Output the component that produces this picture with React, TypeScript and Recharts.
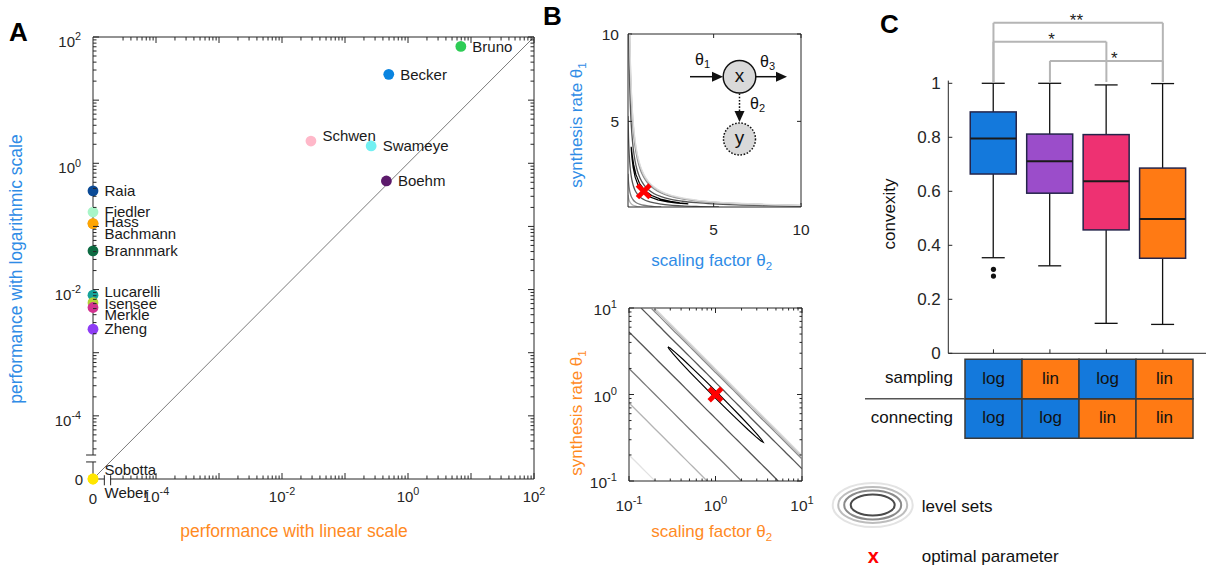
import React from 'react';
import {
  ScatterChart, ComposedChart, BarChart, Scatter, Line, Bar, Cell, LabelList,
  XAxis, YAxis, ReferenceLine, ReferenceDot,
} from 'recharts';

const FONT = '"Liberation Sans", Arial, Helvetica, sans-serif';
const INK = '#262626';
const LABEL_BLUE = '#2f8ce6';
const LABEL_ORANGE = '#ff8a1f';

// ---------------- Panel A data ----------------
const modelNames = ['Bachmann', 'Raia', 'Fiedler', 'Hass', 'Brannmark', 'Lucarelli', 'Isensee', 'Merkle', 'Zheng', 'Weber', 'Sobotta', 'Schwen', 'Swameye', 'Boehm', 'Becker', 'Bruno'];
const linearScalePerf = [0, 0, 0, 0, 0, 0, 0, 0, 0, 0, 0, 0.0288, 0.26, 0.454, 0.495, 6.9];
const logScalePerf = [0.111, 0.365, 0.169, 0.111, 0.041, 0.00815, 0.0062, 0.0052, 0.00236, 0, 0, 2.25, 1.88, 0.525, 25.6, 71];
const modelColors = ['#c9a060', '#0b4a96', '#a8f5c8', '#ffa500', '#0d6b42', '#15a39a', '#b3d236', '#d2318f', '#8e3cf5', '#ffe600', '#ffe600', '#ffb8c9', '#72f0f2', '#5c1a6b', '#0a84e0', '#2ecc55'];
const labelShift: Record<string, number> = { Schwen: -5, Fiedler: -0.5, Hass: -1.5, Bachmann: 10.5, Lucarelli: -3.5, Isensee: 1, Merkle: 7.5, Sobotta: -9.7, Weber: 13.7 };
const aTickExponents = [-4, -2, 0, 2];

// ---------------- Panel B data (level sets) ----------------
const levelSet1 = [[0.1, 0.2], [0.13, 0.154], [0.16, 0.125], [0.2, 0.1]];
const levelSet2 = [[0.1, 0.8], [0.13, 0.615], [0.16, 0.5], [0.2, 0.4], [0.25, 0.32], [0.32, 0.25], [0.4, 0.2], [0.5, 0.16], [0.63, 0.127], [0.8, 0.1]];
const levelSet3 = [[0.1, 2], [0.13, 1.54], [0.16, 1.25], [0.2, 1], [0.25, 0.8], [0.32, 0.625], [0.4, 0.5], [0.5, 0.4], [0.63, 0.317], [0.8, 0.25], [1, 0.2], [1.26, 0.159], [1.6, 0.125], [2, 0.1]];
const levelSet4 = [[0.1, 5.3], [0.13, 4.08], [0.16, 3.31], [0.2, 2.65], [0.25, 2.12], [0.32, 1.66], [0.4, 1.33], [0.5, 1.06], [0.63, 0.84], [0.8, 0.66], [1, 0.53], [1.26, 0.42], [1.6, 0.33], [2, 0.265], [2.5, 0.212], [3.2, 0.166], [4, 0.133], [5.3, 0.1]];
const levelSet5 = [[0.138, 10], [0.16, 8.6], [0.2, 6.9], [0.25, 5.5], [0.32, 4.3], [0.4, 3.45], [0.5, 2.76], [0.63, 2.19], [0.8, 1.73], [1, 1.38], [1.26, 1.1], [1.6, 0.86], [2, 0.69], [2.5, 0.55], [3.2, 0.43], [4, 0.345], [5, 0.276], [6.3, 0.219], [8, 0.173], [10, 0.138]];
const levelSet6 = [[0.18, 10], [0.2, 9], [0.25, 7.2], [0.32, 5.6], [0.4, 4.5], [0.5, 3.6], [0.63, 2.86], [0.8, 2.25], [1, 1.8], [1.26, 1.43], [1.6, 1.13], [2, 0.9], [2.5, 0.72], [3.2, 0.56], [4, 0.45], [5, 0.36], [6.3, 0.286], [8, 0.225], [10, 0.18]];
const levelSet7 = [[0.192, 10], [0.25, 7.7], [0.32, 6], [0.4, 4.8], [0.5, 3.84], [0.63, 3.05], [0.8, 2.4], [1, 1.92], [1.26, 1.52], [1.6, 1.2], [2, 0.96], [2.5, 0.77], [3.2, 0.6], [4, 0.48], [5, 0.384], [6.3, 0.305], [8, 0.24], [10, 0.192]];
const levelSet8 = [[0.198, 10], [0.25, 7.9], [0.32, 6.2], [0.4, 4.95], [0.5, 3.96], [0.63, 3.14], [0.8, 2.48], [1, 1.98], [1.26, 1.57], [1.6, 1.24], [2, 0.99], [2.5, 0.79], [3.2, 0.62], [4, 0.495], [5, 0.396], [6.3, 0.314], [8, 0.248], [10, 0.198]];
const levelSetColors = ['#e2e2e2', '#b4b4b4', '#7c7c7c', '#555555', '#555555', '#8a8a8a', '#b4b4b4', '#dcdcdc'];
const innerLevelSet = [[0.282, 3.55], [0.298, 3.44], [0.342, 3.07], [0.423, 2.535], [0.553, 1.965], [0.755, 1.455], [1.05, 1.05], [1.455, 0.755], [1.965, 0.553], [2.535, 0.423], [3.07, 0.342], [3.44, 0.298], [3.55, 0.282], [3.355, 0.2907], [2.921, 0.326], [2.366, 0.394], [1.806, 0.509], [1.325, 0.6875], [0.953, 0.953], [0.6875, 1.325], [0.509, 1.806], [0.394, 2.366], [0.326, 2.921], [0.2907, 3.355], [0.282, 3.55]];
const optimum = [{ x: 1, y: 1 }];
const linTicks = [5, 10];
const logMajor = [0.1, 1, 10];
const logMinor = [0.2, 0.3, 0.4, 0.5, 0.6, 0.7, 0.8, 0.9, 2, 3, 4, 5, 6, 7, 8, 9];

// ---------------- Panel C data ----------------
const boxPos = [1, 2, 3, 4];
const boxLow = [0.354, 0.324, 0.111, 0.107];
const boxQ1 = [0.664, 0.593, 0.457, 0.352];
const boxMedian = [0.796, 0.711, 0.637, 0.497];
const boxQ3 = [0.894, 0.812, 0.81, 0.686];
const boxHigh = [1.0, 1.0, 0.994, 0.999];
const boxColors = ['#1479dc', '#9b4dca', '#ee3172', '#ff7a14'];
const outlierPos = [1, 1];
const outlierVal = [0.311, 0.286];
const cTicks = [0, 0.2, 0.4, 0.6, 0.8, 1];
const bracketFrom = [1, 1, 2];
const bracketTo = [4, 3, 4];
const bracketLevel = [1.224, 1.154, 1.083];
const bracketText = ['**', '*', '*'];
const bracketTextPos = [2.47, 2.03, 3.14];
const samplingScale = ['log', 'lin', 'log', 'lin'];
const connectingScale = ['log', 'log', 'lin', 'lin'];
const rowLabels = ['sampling', 'connecting'];
const scaleColor: Record<string, string> = { log: '#1479dc', lin: '#ff7a14' };

// ---------------- helpers ----------------
const ZERO_POS = -5;
const brokenLog = (v: number) => (v > 0 ? Math.log10(v) : ZERO_POS);
const isInt = (v: number) => Math.abs(v - Math.round(v)) < 1e-9;
const decadeStarts = [-5, -4, -3, -2, -1, 0, 1];
const minorMult = [2, 3, 4, 5, 6, 7, 8, 9];
const aMinor = decadeStarts.flatMap((d) => minorMult.map((k) => d + Math.log10(k))).filter((t) => t > -4.6);
const aTicks = [ZERO_POS, -4, -3, -2, -1, 0, 1, 2, ...aMinor];

const PA_W = 441;
const PA_H = 442;
const PB = 173;

const modelData = modelNames.map((n, i) => ({
  name: n,
  x: brokenLog(linearScalePerf[i]),
  y: brokenLog(logScalePerf[i]),
  color: modelColors[i],
  shift: labelShift[n] || 0,
}));

const toPts = (arr: number[][]) => arr.map(([x, y]) => ({ x, y }));
const levelSets = [levelSet1, levelSet2, levelSet3, levelSet4, levelSet5, levelSet6, levelSet7, levelSet8].map(toPts);
const innerPts = toPts(innerLevelSet);

const txt = { fontFamily: FONT, fill: INK } as const;

function Pow({ exp, fs }: { exp: number; fs: number }) {
  return (
    <>
      <tspan>10</tspan>
      <tspan dy={-fs * 0.45} fontSize={fs * 0.72}>{exp}</tspan>
    </>
  );
}

// ---------- Panel A ticks ----------
function TickAX(props: any) {
  const { x, y, payload } = props;
  const v = payload.value as number;
  const len = isInt(v) ? 6 : 3.5;
  const exp = Math.round(v);
  return (
    <g>
      {v > -4.9 && <line x1={x} x2={x} y1={y} y2={y - len} stroke={INK} />}
      {v > -4.9 && <line x1={x} x2={x} y1={y - PA_H} y2={y - PA_H + len} stroke={INK} />}
      {v === ZERO_POS && <text x={x} y={y + 25} textAnchor="middle" fontSize={15} {...txt}>0</text>}
      {isInt(v) && v > ZERO_POS && aTickExponents.includes(exp) && (
        <text x={x} y={y + 23} textAnchor="middle" fontSize={15} {...txt}><Pow exp={exp} fs={15} /></text>
      )}
    </g>
  );
}
function TickAY(props: any) {
  const { x, y, payload } = props;
  const v = payload.value as number;
  const len = isInt(v) ? 6 : 3.5;
  const exp = Math.round(v);
  return (
    <g>
      {v > -4.9 && <line x1={x} x2={x + len} y1={y} y2={y} stroke={INK} />}
      {v > -4.9 && <line x1={x + PA_W} x2={x + PA_W - len} y1={y} y2={y} stroke={INK} />}
      {v === ZERO_POS && <text x={x - 10} y={y + 5.5} textAnchor="end" fontSize={15} {...txt}>0</text>}
      {isInt(v) && v > ZERO_POS && aTickExponents.includes(exp) && (
        <text x={x - 12} y={y + 10} textAnchor="end" fontSize={15} {...txt}><Pow exp={exp} fs={15} /></text>
      )}
    </g>
  );
}
function ModelMarker(props: any) {
  const { cx, cy, payload } = props;
  return (
    <g>
      <circle cx={cx} cy={cy} r={5.4} fill={payload.color} />
      <text x={cx + 11.5} y={cy + 5.3 + payload.shift} fontSize={15} fontFamily={FONT} fill="#1a1a1a">{payload.name}</text>
    </g>
  );
}

// ---------- Panel B ticks ----------
function TickBLinX(props: any) {
  const { x, y, payload } = props;
  return (
    <g>
      <line x1={x} x2={x} y1={y} y2={y - 4} stroke={INK} />
      <line x1={x} x2={x} y1={y - PB} y2={y - PB + 4} stroke={INK} />
      <text x={x} y={y + 28} textAnchor="middle" fontSize={15.5} {...txt}>{payload.value}</text>
    </g>
  );
}
function TickBLinY(props: any) {
  const { x, y, payload } = props;
  return (
    <g>
      <line x1={x} x2={x + 4} y1={y} y2={y} stroke={INK} />
      <line x1={x + PB} x2={x + PB - 4} y1={y} y2={y} stroke={INK} />
      <text x={x - 9} y={y + 5.5} textAnchor="end" fontSize={15.5} {...txt}>{payload.value}</text>
    </g>
  );
}
function TickBLogX(props: any) {
  const { x, y, payload } = props;
  const v = payload.value as number;
  const major = logMajor.includes(v);
  const len = major ? 5 : 2.5;
  return (
    <g>
      <line x1={x} x2={x} y1={y} y2={y - len} stroke={INK} />
      <line x1={x} x2={x} y1={y - PB} y2={y - PB + len} stroke={INK} />
      {major && <text x={x} y={y + 30} textAnchor="middle" fontSize={15.5} {...txt}><Pow exp={Math.round(Math.log10(v))} fs={15.5} /></text>}
    </g>
  );
}
function TickBLogY(props: any) {
  const { x, y, payload } = props;
  const v = payload.value as number;
  const major = logMajor.includes(v);
  const len = major ? 5 : 2.5;
  return (
    <g>
      <line x1={x} x2={x + len} y1={y} y2={y} stroke={INK} />
      <line x1={x + PB} x2={x + PB - len} y1={y} y2={y} stroke={INK} />
      {major && <text x={x - 12} y={y + 7} textAnchor="end" fontSize={15.5} {...txt}><Pow exp={Math.round(Math.log10(v))} fs={15.5} /></text>}
    </g>
  );
}
function RedCross(props: any) {
  const { cx, cy } = props;
  const s = 6.3;
  return (
    <g stroke="#ff0000" strokeWidth={4.8}>
      <line x1={cx - s} y1={cy - s} x2={cx + s} y2={cy + s} />
      <line x1={cx - s} y1={cy + s} x2={cx + s} y2={cy - s} />
    </g>
  );
}

// ---------- Panel C ----------
function TickCY(props: any) {
  const { x, y, payload } = props;
  const v = payload.value as number;
  const label = v === 0 ? '0' : v === 1 ? '1' : v.toFixed(1);
  return (
    <g>
      <line x1={x} x2={x + 4} y1={y} y2={y} stroke={INK} />
      <text x={x - 7.5} y={y + 5.5} textAnchor="end" fontSize={17} {...txt}>{label}</text>
    </g>
  );
}
function TickCX(props: any) {
  const { x, y } = props;
  return <line x1={x} x2={x} y1={y} y2={y - 4} stroke={INK} />;
}
function BoxShape(props: any) {
  const { x, y, width, height, payload } = props;
  const top = Math.min(y, y + height);
  const h = Math.abs(height);
  const { lo, q1, med, q3, hi, color } = payload;
  const py = (v: number) => top + ((hi - v) / (hi - lo)) * h;
  const cx = x + width / 2;
  const cap = 11.5;
  return (
    <g>
      <line x1={cx} x2={cx} y1={py(hi)} y2={py(q3)} stroke="#111" strokeWidth={1.3} />
      <line x1={cx} x2={cx} y1={py(q1)} y2={py(lo)} stroke="#111" strokeWidth={1.3} />
      <line x1={cx - cap} x2={cx + cap} y1={py(hi)} y2={py(hi)} stroke="#111" strokeWidth={1.3} />
      <line x1={cx - cap} x2={cx + cap} y1={py(lo)} y2={py(lo)} stroke="#111" strokeWidth={1.3} />
      <rect x={x} y={py(q3)} width={width} height={py(q1) - py(q3)} fill={color} stroke="#24244a" strokeWidth={1.5} />
      <line x1={x} x2={x + width} y1={py(med)} y2={py(med)} stroke="#1a1a1a" strokeWidth={2} />
    </g>
  );
}
function OutlierDot(props: any) {
  const { cx, cy } = props;
  return <circle cx={cx} cy={cy} r={2.6} fill="#111" />;
}
const boxData = boxPos.map((p, i) => ({
  pos: p, lo: boxLow[i], q1: boxQ1[i], med: boxMedian[i], q3: boxQ3[i], hi: boxHigh[i], color: boxColors[i],
}));
const outlierData = outlierPos.map((p, i) => ({ pos: p, val: outlierVal[i] }));

const tableData = boxPos.map((p, i) => ({
  name: String(p), conn: 1, samp: 1, c: connectingScale[i], s: samplingScale[i],
}));
function TableTick(props: any) {
  const { x, y, payload } = props;
  const v = payload.value as number;
  if (v === 1) return <line x1={x - 100} x2={x} y1={y} y2={y} stroke="#555" strokeWidth={1.5} />;
  return (
    <text x={x - 12} y={y + 4} textAnchor="end" fontSize={17} fontFamily={FONT} fill="#111">
      {v > 1 ? rowLabels[0] : rowLabels[1]}
    </text>
  );
}
function CellText(props: any) {
  const { x, y, width, height, value } = props;
  return (
    <text x={x + width / 2} y={y + height / 2 + 4.5} textAnchor="middle" fontSize={17} fontFamily={FONT} fill="#111">
      {value}
    </text>
  );
}

const frame = { stroke: INK, strokeWidth: 1, ifOverflow: 'visible' as const };

function PanelB({ log }: { log: boolean }) {
  return (
    <ComposedChart
      width={260}
      height={log ? 286 : 280}
      margin={log ? { top: 28, right: 18, bottom: 55, left: 39 } : { top: 34, right: 19, bottom: 43, left: 38 }}
    >
      <XAxis
        type="number" dataKey="x" domain={[0.1, 10]} allowDataOverflow
        scale={log ? 'log' : 'auto'}
        ticks={log ? [...logMajor, ...logMinor] : linTicks}
        interval={0} tickSize={0} tickMargin={0} tickLine={false} height={30}
        tick={log ? TickBLogX : TickBLinX}
        axisLine={{ stroke: INK }}
      />
      <YAxis
        type="number" domain={[0.1, 10]} allowDataOverflow
        scale={log ? 'log' : 'auto'}
        ticks={log ? [...logMajor, ...logMinor] : linTicks}
        interval={0} tickSize={0} tickMargin={0} tickLine={false} width={30}
        tick={log ? TickBLogY : TickBLinY}
        axisLine={{ stroke: INK }}
      />
      <ReferenceLine x={10} stroke={INK} />
      <ReferenceLine y={10} stroke={INK} />
      {levelSets.map((pts, i) => (
        <Line key={i} data={pts} dataKey="y" type="monotone" stroke={levelSetColors[i]} strokeWidth={1.3} dot={false} isAnimationActive={false} />
      ))}
      <Line data={innerPts} dataKey="y" type="linear" stroke="#000" strokeWidth={1.2} dot={false} isAnimationActive={false} />
      <Scatter data={optimum} dataKey="y" shape={RedCross} isAnimationActive={false} />
    </ComposedChart>
  );
}

export default function App() {
  return (
    <div style={{ position: 'absolute', left: 0, top: 0, width: 1206, height: 566, overflow: 'hidden', background: '#fff', fontFamily: FONT }}>
      {/* Panel A */}
      <div style={{ position: 'absolute', left: 0, top: 0 }}>
        <ScatterChart width={560} height={566} margin={{ top: 37, right: 26, bottom: 57, left: 53 }}>
          <XAxis type="number" dataKey="x" domain={[ZERO_POS, 2]} ticks={aTicks} interval={0} tickSize={0} tickMargin={0}
            tickLine={false} axisLine={false} height={30} tick={TickAX} />
          <YAxis type="number" dataKey="y" domain={[ZERO_POS, 2]} ticks={aTicks} interval={0} tickSize={0} tickMargin={0}
            tickLine={false} axisLine={false} width={40} tick={TickAY} />
          {/* frame with axis breaks */}
          <ReferenceLine segment={[{ x: -5, y: -5 }, { x: -5, y: -4.73 }]} {...frame} />
          <ReferenceLine segment={[{ x: -5, y: -4.62 }, { x: -5, y: 2 }]} {...frame} />
          <ReferenceLine segment={[{ x: -5, y: -5 }, { x: -4.82, y: -5 }]} {...frame} />
          <ReferenceLine segment={[{ x: -4.72, y: -5 }, { x: 2, y: -5 }]} {...frame} />
          <ReferenceLine segment={[{ x: -5, y: 2 }, { x: 2, y: 2 }]} {...frame} />
          <ReferenceLine segment={[{ x: 2, y: -5 }, { x: 2, y: 2 }]} {...frame} />
          <ReferenceLine segment={[{ x: -5.11, y: -4.73 }, { x: -4.95, y: -4.73 }]} {...frame} />
          <ReferenceLine segment={[{ x: -5.11, y: -4.62 }, { x: -4.95, y: -4.62 }]} {...frame} />
          <ReferenceLine segment={[{ x: -4.82, y: -5.1 }, { x: -4.82, y: -4.94 }]} {...frame} />
          <ReferenceLine segment={[{ x: -4.72, y: -5.1 }, { x: -4.72, y: -4.94 }]} {...frame} />
          <ReferenceLine segment={[{ x: -5, y: -5 }, { x: 2, y: 2 }]} stroke="#7a7a7a" strokeWidth={1} ifOverflow="visible" />
          <Scatter data={modelData} shape={ModelMarker} isAnimationActive={false} />
        </ScatterChart>
      </div>

      {/* Panel B top */}
      <div style={{ position: 'absolute', left: 560, top: 0 }}>
        <PanelB log={false} />
      </div>
      {/* Panel B bottom */}
      <div style={{ position: 'absolute', left: 560, top: 280 }}>
        <PanelB log />
      </div>

      {/* Panel C boxes */}
      <div style={{ position: 'absolute', left: 860, top: 0 }}>
        <ComposedChart width={350} height={370} data={boxData} margin={{ top: 80.6, right: 2, bottom: 6.7, left: 48.3 }}>
          <XAxis type="number" dataKey="pos" domain={[0.2, 4.8]} ticks={boxPos} interval={0} tickSize={0} tickMargin={0}
            tickLine={false} height={10} tick={TickCX} axisLine={{ stroke: INK }} />
          <YAxis type="number" domain={[0, 1.01]} ticks={cTicks} interval={0} tickSize={0} tickMargin={0}
            tickLine={false} width={40} tick={TickCY} axisLine={{ stroke: INK }} />
          {bracketFrom.map((f, i) => (
            <ReferenceLine key={'h' + i} segment={[{ x: f, y: bracketLevel[i] }, { x: bracketTo[i], y: bracketLevel[i] }]}
              stroke="#b5b5b5" strokeWidth={2} ifOverflow="visible" />
          ))}
          {bracketFrom.map((f, i) => (
            <ReferenceLine key={'l' + i} segment={[{ x: f, y: bracketLevel[i] }, { x: f, y: 1.005 }]}
              stroke="#b5b5b5" strokeWidth={2} ifOverflow="visible" />
          ))}
          {bracketTo.map((t, i) => (
            <ReferenceLine key={'r' + i} segment={[{ x: t, y: bracketLevel[i] }, { x: t, y: 1.005 }]}
              stroke="#b5b5b5" strokeWidth={2} ifOverflow="visible" />
          ))}
          {bracketText.map((s, i) => (
            <ReferenceDot key={'t' + i} x={bracketTextPos[i]} y={bracketLevel[i]} r={0} ifOverflow="visible"
              shape={(p: any) => (
                <text x={p.cx} y={p.cy + 2.8} textAnchor="middle" fontSize={17} fontFamily={FONT} fill="#222">{s}</text>
              )} />
          ))}
          <Bar dataKey={(d: any) => [d.lo, d.hi]} barSize={46} shape={BoxShape} isAnimationActive={false} />
          <Scatter data={outlierData} dataKey="val" shape={OutlierDot} isAnimationActive={false} />
        </ComposedChart>
      </div>

      {/* Panel C table */}
      <div style={{ position: 'absolute', left: 850, top: 345 }}>
        <BarChart width={360} height={100} data={tableData} margin={{ top: 14.3, right: 17, bottom: 6.7, left: 55 }}
          barCategoryGap={0} barGap={0}>
          <XAxis dataKey="name" hide />
          <YAxis type="number" domain={[0, 2]} ticks={[0.5, 1, 1.5]} interval={0} tickSize={0} tickMargin={0}
            tickLine={false} axisLine={false} width={60} tick={TableTick} />
          <Bar dataKey="conn" stackId="t" stroke="#3a3a3a" strokeWidth={1.5} isAnimationActive={false}>
            {tableData.map((d, i) => <Cell key={i} fill={scaleColor[d.c]} />)}
            <LabelList dataKey="c" content={CellText} />
          </Bar>
          <Bar dataKey="samp" stackId="t" stroke="#3a3a3a" strokeWidth={1.5} isAnimationActive={false}>
            {tableData.map((d, i) => <Cell key={i} fill={scaleColor[d.s]} />)}
            <LabelList dataKey="s" content={CellText} />
          </Bar>
        </BarChart>
      </div>

      {/* Titles, schematic, legend */}
      <svg width={1206} height={566} style={{ position: 'absolute', left: 0, top: 0, pointerEvents: 'none' }} fontFamily={FONT}>
        <text x={9} y={41} fontSize={26} fontWeight="bold" fill="#000">A</text>
        <text x={543} y={25} fontSize={26} fontWeight="bold" fill="#000">B</text>
        <text x={880} y={33} fontSize={26} fontWeight="bold" fill="#000">C</text>

        <text transform="translate(21.5,269) rotate(-90)" textAnchor="middle" fontSize={17.5} fill={LABEL_BLUE}>performance with logarithmic scale</text>
        <text x={294} y={537} textAnchor="middle" fontSize={17.5} fill={LABEL_ORANGE}>performance with linear scale</text>

        <text transform="translate(581.5,125) rotate(-90)" textAnchor="middle" fontSize={17} fill={LABEL_BLUE}>
          synthesis rate θ<tspan dy={4} fontSize={11.5}>1</tspan>
        </text>
        <text x={711.7} y={265.5} textAnchor="middle" fontSize={17} fill={LABEL_BLUE}>
          scaling factor θ<tspan dy={4} fontSize={11.5}>2</tspan>
        </text>
        <text transform="translate(581.5,413) rotate(-90)" textAnchor="middle" fontSize={17} fill={LABEL_ORANGE}>
          synthesis rate θ<tspan dy={4} fontSize={11.5}>1</tspan>
        </text>
        <text x={711.7} y={536.7} textAnchor="middle" fontSize={17} fill={LABEL_ORANGE}>
          scaling factor θ<tspan dy={4} fontSize={11.5}>2</tspan>
        </text>

        <text transform="translate(895,214) rotate(-90)" textAnchor="middle" fontSize={17} fill="#111">convexity</text>

        {/* schematic */}
        <g stroke="#111" strokeWidth={1.5} fill="none">
          <line x1={690} y1={76.7} x2={714} y2={76.7} />
          <line x1={755.8} y1={76.7} x2={778} y2={76.7} />
          <line x1={739.5} y1={93.5} x2={739.5} y2={112} strokeDasharray="1.6 1.6" />
          <circle cx={739.5} cy={76.7} r={16.3} fill="#d9d9d9" />
          <circle cx={739.5} cy={139} r={16} fill="#d9d9d9" strokeDasharray="1.6 1.6" />
        </g>
        <polygon points="723,76.7 712,71.7 712,81.7" fill="#111" />
        <polygon points="787,76.7 776,71.7 776,81.7" fill="#111" />
        <polygon points="739.5,122 734.5,111 744.5,111" fill="#111" />
        <text x={739.5} y={82} textAnchor="middle" fontSize={19} fill="#111">x</text>
        <text x={739.5} y={143.5} textAnchor="middle" fontSize={19} fill="#111">y</text>
        <text x={695} y={65} fontSize={16} fill="#111">θ<tspan dy={3} fontSize={11}>1</tspan></text>
        <text x={760} y={66.5} fontSize={16} fill="#111">θ<tspan dy={3} fontSize={11}>3</tspan></text>
        <text x={750} y={109} fontSize={16} fill="#111">θ<tspan dy={3} fontSize={11}>2</tspan></text>

        {/* legend */}
        <g fill="none" strokeWidth={2}>
          <ellipse cx={872.7} cy={505} rx={40} ry={22} stroke="#e3e3e3" />
          <ellipse cx={872.7} cy={505} rx={34.5} ry={18} stroke="#bdbdbd" />
          <ellipse cx={872.7} cy={505} rx={28.5} ry={14.5} stroke="#8a8a8a" />
          <ellipse cx={872.7} cy={505} rx={22} ry={10.5} stroke="#4a4a4a" />
        </g>
        <text x={921.7} y={511.5} fontSize={17} fill="#111">level sets</text>
        <text x={873.3} y={562.7} textAnchor="middle" fontSize={20} fontWeight="bold" fill="#ff0000">x</text>
        <text x={921.7} y={561.5} fontSize={17} fill="#111">optimal parameter</text>
      </svg>
    </div>
  );
}
